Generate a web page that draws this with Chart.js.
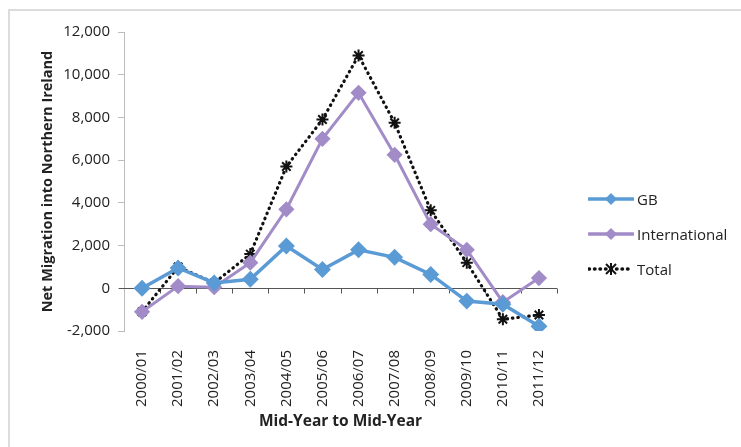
<!DOCTYPE html>
<html>
<head>
<meta charset="utf-8">
<script src="https://cdn.jsdelivr.net/npm/chart.js@4.4.1/dist/chart.umd.min.js"></script>
<style>
  html, body { margin: 0; padding: 0; background: #fff; }
  #wrap { position: relative; width: 741px; height: 447px; overflow: hidden; font-family: "Open Sans", sans-serif; }
  #frame { position: absolute; left: 8px; top: 9px; width: 760px; height: 460px; border: 2px solid #dcdcdc; box-sizing: border-box; }
  #chart { position: absolute; left: 0; top: 0; }
  #legend { position: absolute; left: 588px; top: 181px; color: #222; font-size: 15px; }
  .item { display: flex; align-items: center; height: 35px; }
  .item svg { margin-right: 3px; }
</style>
</head>
<body>
<div id="wrap">
  <div id="frame"></div>
  <canvas id="chart" width="741" height="447"></canvas>
  <div id="legend"></div>
</div>
<script>
// Net migration into Northern Ireland, mid-year to mid-year
const years = ["2000/01","2001/02","2002/03","2003/04","2004/05","2005/06","2006/07","2007/08","2008/09","2009/10","2010/11","2011/12"];
const gb            = [0, 950, 250, 420, 1980, 880, 1800, 1450, 650, -600, -750, -1780];
const international = [-1100, 100, 50, 1200, 3700, 7000, 9150, 6250, 3000, 1800, -650, 480];
const total         = [-1100, 1000, 250, 1600, 5700, 7900, 10900, 7750, 3650, 1200, -1450, -1250];
const yTicks = [-2000, 0, 2000, 4000, 6000, 8000, 10000, 12000];

const BLUE = "#5b9bd5";
const PURPLE = "#a28cc8";
const INK = "#222";

// horizontal line at zero with small downward ticks between categories
const zeroAxis = {
  id: "zeroAxis",
  beforeDatasetsDraw(chart) {
    const { ctx, scales: { x, y }, chartArea } = chart;
    const y0 = Math.round(y.getPixelForValue(0)) + 0.5;
    ctx.save();
    ctx.strokeStyle = "#555";
    ctx.lineWidth = 1;
    ctx.beginPath();
    ctx.moveTo(chartArea.left - 5, y0);
    ctx.lineTo(chartArea.right, y0);
    const n = years.length;
    for (let i = 1; i <= n; i++) {
      const xx = i < n
        ? Math.round((x.getPixelForValue(i - 1) + x.getPixelForValue(i)) / 2) + 0.5
        : chartArea.right + 0.5;
      ctx.moveTo(xx, y0);
      ctx.lineTo(xx, y0 + 5);
    }
    ctx.stroke();
    ctx.restore();
  }
};

const ds = (label, data, color, opts) => Object.assign({
  label, data,
  borderColor: color,
  backgroundColor: color,
  pointBackgroundColor: color,
  pointBorderColor: color,
  borderWidth: 3.5,
  tension: 0,
  pointStyle: "rectRot",
  pointRadius: 6,
  pointHoverRadius: 6
}, opts || {});

new Chart(document.getElementById("chart"), {
  type: "line",
  data: {
    labels: years,
    datasets: [
      ds("GB", gb, BLUE),
      ds("International", international, PURPLE, { borderWidth: 3 }),
      ds("Total", total, "#111", {
        borderWidth: 3.2,
        borderDash: [0.5, 5],
        borderCapStyle: "round",
        pointStyle: "star",
        pointRadius: 6,
        pointBorderWidth: 2
      })
    ]
  },
  options: {
    responsive: false,
    animation: false,
    events: [],
    layout: { padding: { left: 35, right: 184, top: 32, bottom: 15 } },
    plugins: { legend: { display: false }, tooltip: { enabled: false } },
    scales: {
      x: {
        offset: true,
        grid: { display: false },
        border: { display: false },
        ticks: {
          color: INK,
          font: { family: "Open Sans", size: 15 },
          minRotation: 90, maxRotation: 90,
          padding: 11,
          autoSkip: false
        },
        title: {
          display: true,
          text: "Mid-Year to Mid-Year",
          color: INK,
          padding: { top: 4, bottom: 1 },
          font: { family: "Open Sans", size: 15.5, weight: "bold" }
        },
        afterFit(s) { s.height = 101; }
      },
      y: {
        min: -2000, max: 12000,
        afterBuildTicks(s) { s.ticks = yTicks.map(v => ({ value: v })); },
        grid: { drawOnChartArea: false, drawTicks: true, tickLength: 6, color: "#bdbdbd" },
        border: { display: true, color: "#bdbdbd" },
        ticks: {
          color: INK,
          font: { family: "Open Sans", size: 15 },
          padding: 8,
          callback: v => v.toLocaleString("en-US")
        },
        title: {
          display: true,
          text: "Net Migration into Northern Ireland",
          color: INK,
          font: { family: "Open Sans", size: 14.5, weight: "bold" }
        },
        afterFit(s) { s.width = 89; }
      }
    }
  },
  plugins: [zeroAxis]
});

// legend: line sample with marker, then label
const legendItems = [
  { label: "GB", color: BLUE, marker: "diamond", dash: "" },
  { label: "International", color: PURPLE, marker: "diamond", dash: "" },
  { label: "Total", color: "#111", marker: "star", dash: "0.5 5" }
];
const lg = document.getElementById("legend");
legendItems.forEach(it => {
  const d = document.createElement("div");
  d.className = "item";
  let mk;
  if (it.marker === "diamond") {
    mk = `<polygon points="23,1 29,7 23,13 17,7" fill="${it.color}"/>`;
  } else {
    mk = `<g stroke="${it.color}" stroke-width="2"><line x1="18" y1="2" x2="28" y2="12"/><line x1="28" y1="2" x2="18" y2="12"/><line x1="23" y1="1" x2="23" y2="13"/></g>`;
  }
  d.innerHTML = `<svg width="46" height="14" viewBox="0 0 46 14"><line x1="1" y1="7" x2="45" y2="7" stroke="${it.color}" stroke-width="3.5" stroke-linecap="round" ${it.dash ? `stroke-dasharray="${it.dash}"` : ""}/>${mk}</svg><span>${it.label}</span>`;
  lg.appendChild(d);
});
</script>
</body>
</html>
